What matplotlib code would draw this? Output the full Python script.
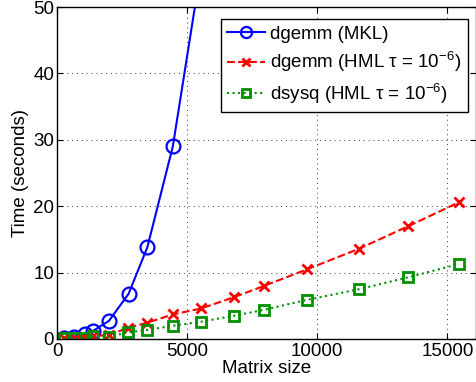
import matplotlib
matplotlib.use("Agg")
import matplotlib.pyplot as plt

plt.rcParams['font.family'] = ['Liberation Sans', 'DejaVu Sans']
plt.rcParams['mathtext.fontset'] = 'custom'
plt.rcParams['mathtext.rm'] = 'Liberation Sans'
plt.rcParams['mathtext.it'] = 'Liberation Sans:italic'

mkl_x = [270, 650, 1070, 1400, 2000, 2750, 3470, 4450, 5500]
mkl_y = [0.15, 0.35, 0.75, 1.25, 2.75, 6.8, 13.8, 29.0, 55.0]

hml_x = [270, 690, 1077, 1385, 2000, 2730, 3460, 4460, 5540, 6800, 7960, 9610, 11610, 13500, 15450]
gemm_y = [0.1, 0.15, 0.3, 0.45, 0.6, 1.7, 2.45, 3.7, 4.6, 6.3, 8.0, 10.5, 13.6, 17.0, 20.6]
sysq_y = [0.1, 0.1, 0.2, 0.4, 0.35, 1.0, 1.35, 2.0, 2.6, 3.5, 4.4, 5.9, 7.5, 9.3, 11.3]

labels = ['dgemm (MKL)', 'dgemm (HML τ = 10$^{-6}$)', 'dsysq (HML τ = 10$^{-6}$)']

FS = 13.5
fig = plt.figure(figsize=(4.77, 3.82), dpi=100)
ax = fig.add_axes([0.1195, 0.1126, 0.8785, 0.869])

ax.plot(mkl_x, mkl_y, '-o', color='#0000ff', lw=1.5, ms=10, mfc='none', mew=1.6, label=labels[0])
ax.plot(hml_x, gemm_y, '--x', color='#ff0000', lw=1.5, ms=7, mew=2, label=labels[1])
ax.plot(hml_x, sysq_y, ':s', color='#009000', lw=1.5, ms=7.5, mfc='none', mew=2, label=labels[2])

ax.set_xlim(0, 16100)
ax.set_ylim(0, 50)
ax.set_xticks([0, 5000, 10000, 15000])
ax.set_yticks([0, 10, 20, 30, 40, 50])
ax.tick_params(direction='in', top=True, right=True, labelsize=FS, length=4, pad=2)
ax.tick_params(axis='x', pad=3)
ax.grid(True, linestyle=(0, (1, 4)), color='#333333', lw=0.7)
for s in ax.spines.values():
    s.set_linewidth(1.0)
ax.set_xlabel('Matrix size', fontsize=FS, labelpad=0)
ax.set_ylabel('Time (seconds)', fontsize=FS, labelpad=3)

leg = ax.legend(loc='upper right', bbox_to_anchor=(0.981, 0.964), borderaxespad=0,
                fontsize=FS, fancybox=False, framealpha=1, markerscale=0.8,
                edgecolor='black', handlelength=2.0,
                handletextpad=0.3, labelspacing=0.4, borderpad=0.35)
leg.get_frame().set_linewidth(1.0)

fig.savefig('out.png', dpi=100)
